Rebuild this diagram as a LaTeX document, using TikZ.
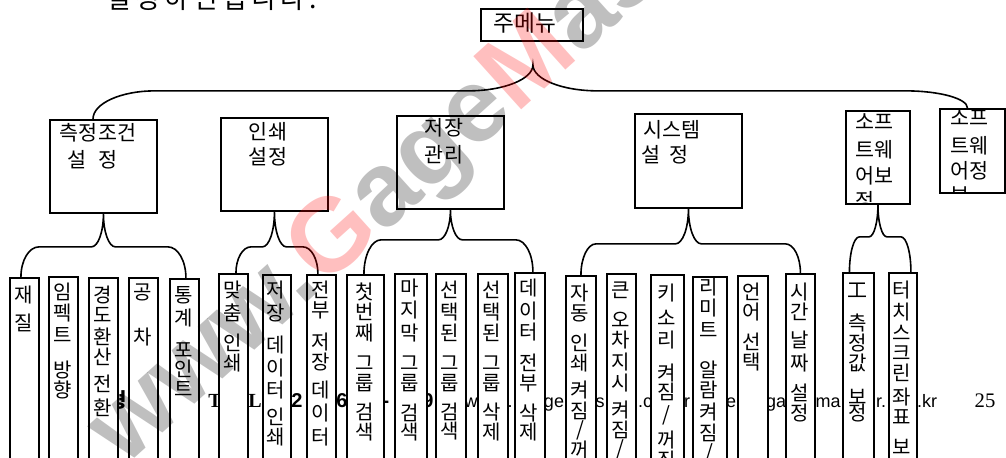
\documentclass[tikz,border=0pt]{standalone}
\usepackage{fontspec}
\setmainfont{Liberation Serif}
\newfontfamily\kr{Noto Sans CJK KR}
\newfontfamily\lsans{Liberation Sans}
\usetikzlibrary{calc}
\newcommand\pbox[5]{\node[box, anchor=north west, minimum width={(#4-#2)*0.75pt}, minimum height={(#5-#3)*0.75pt}] (#1) at (#2,#3) {};}
\newcommand\vtext[3]{\foreach \yy/\ch [count=\i] in {#3} {\node[vch] (#1-\i) at (#2,\yy) {\ch};}}
\newcommand\cbrace[6]{%
\draw[br] let \p1=(#1), \p2=(#2), \p3=(#3), \p4=($(#1)+(0,#4)$), \p5=(#5,0), \p6=(#6,0) in
 (\p2) .. controls (\x2,{\y2+0.552*((\y4)-(\y2))}) and ({\x2+0.448*\x5},\y4) .. ({\x2+\x5},\y4)
 -- ({\x1-\x6},\y4) .. controls ({\x1-0.448*\x6},\y4) and (\x1,{\y1-0.552*((\y1)-(\y4))}) .. (\p1)
 .. controls (\x1,{\y1-0.552*((\y1)-(\y4))}) and ({\x1+0.448*\x6},\y4) .. ({\x1+\x6},\y4)
 -- ({\x3-\x5},\y4) .. controls ({\x3-0.448*\x5},\y4) and (\x3,{\y3+0.552*((\y4)-(\y3))}) .. (\p3);}
\begin{document}
\begin{tikzpicture}[x=0.75pt,y=-0.75pt,
  box/.style={draw, line width=1.4pt, fill=white, inner sep=0pt},
  br/.style={line width=1.2pt},
  vch/.style={font=\kr\fontsize{15}{15}\selectfont, inner sep=0pt},
  tt/.style={font=\kr\fontsize{15.5}{16}\selectfont, inner sep=0pt},
  ft/.style={anchor=base, inner sep=0pt}]
\useasboundingbox (0,0) rectangle (1006,457);
\clip (0,0) rectangle (1006,457);
% header line (cut at top)
\node[anchor=base west, inner sep=0pt, font=\kr\fontsize{20}{22}\selectfont] (head) at (106,8) {설\,정\,하\,면\,됩\,니\,다\,.};
% footer fragments (mostly hidden behind the columns)
\node[ft, font=\kr\bfseries\fontsize{15}{16}\selectfont] (f0) at (118,407) {형};
\node[ft, font=\bfseries\fontsize{15}{16}\selectfont] (f1) at (215,407) {T};
\node[ft, font=\bfseries\fontsize{15}{16}\selectfont] (f2) at (255,407) {L};
\node[ft, font=\lsans\bfseries\fontsize{15}{16}\selectfont] (f3) at (297,407) {2};
\node[ft, font=\lsans\bfseries\fontsize{15}{16}\selectfont] (f4) at (342,407) {6};
\node[ft, font=\lsans\bfseries\fontsize{15}{16}\selectfont] (f5) at (386,407) {-};
\node[ft, font=\lsans\bfseries\fontsize{15}{16}\selectfont] (f6) at (428,407) {9};
\node[ft, font=\lsans\fontsize{13.5}{16}\selectfont] (f7) at (471,407) {w};
\node[ft, font=\lsans\fontsize{13.5}{16}\selectfont] (f8) at (510,407) {.};
\node[ft, font=\lsans\fontsize{13.5}{16}\selectfont] (f9) at (554,407) {ge};
\node[ft, font=\lsans\fontsize{13.5}{16}\selectfont] (f10) at (600,407) {s};
\node[ft, font=\lsans\fontsize{13.5}{16}\selectfont] (f11) at (645,407) {.c};
\node[ft, font=\lsans\fontsize{13.5}{16}\selectfont] (f12) at (687,407) {r};
\node[ft, font=\lsans\fontsize{13.5}{16}\selectfont] (f13) at (731,407) {e};
\node[ft, font=\lsans\fontsize{13.5}{16}\selectfont] (f14) at (776,407) {ga};
\node[ft, font=\lsans\fontsize{13.5}{16}\selectfont] (f15) at (828,407) {ma};
\node[ft, font=\lsans\fontsize{13.5}{16}\selectfont] (f16) at (881,407) {r.};
\node[ft, font=\lsans\fontsize{13.5}{16}\selectfont] (f17) at (927,407) {.kr};
\node[ft, font=\fontsize{15.5}{16}\selectfont] (f18) at (985,407) {25};
% main menu
\pbox{M}{480}{8}{582}{40}
\node[font=\kr\fontsize{17}{18}\selectfont, inner sep=0pt] (Mt) at (525,23) {주메뉴};
% level-1 boxes
\pbox{A}{49}{119}{156}{212}
\pbox{B}{220}{117}{327}{210}
\pbox{C}{396}{115}{503}{208}
\pbox{D}{634}{113}{741}{207}
\pbox{E}{845}{110}{909}{203}
\pbox{F}{939}{108}{1004}{192}
\node[tt] (At1) at (98,133) {측정조건};
\node[tt] (At2) at (92.5,160) {설\hspace{9pt}정};
\node[tt] (Bt1) at (268,132) {인쇄};
\node[tt] (Bt2) at (268,157) {설정};
\node[tt] (Ct1) at (444,128) {저장};
\node[tt] (Ct2) at (444,155) {관리};
\node[tt] (Dt1) at (672,130) {시스템};
\node[tt] (Dt2) at (665,155) {설\hspace{6pt}정};
\begin{scope}
\clip (E.north west) rectangle (E.south east);
\node[tt, anchor=west] (Et1) at (855,122) {소프};
\node[tt, anchor=west] (Et2) at (855,150) {트웨};
\node[tt, anchor=west] (Et3) at (855,176) {어보};
\node[tt, anchor=west] (Et4) at (855,201) {정};
\end{scope}
\begin{scope}
\clip (F.north west) rectangle (F.south east);
\node[tt, anchor=west] (Ft1) at (950,118) {소프};
\node[tt, anchor=west] (Ft2) at (950,146) {트웨};
\node[tt, anchor=west] (Ft3) at (950,171) {어정};
\node[tt, anchor=west] (Ft4) at (950,195) {보};
\end{scope}
% columns
\pbox{c1}{9}{277}{38}{470}
\pbox{c2}{48}{276}{77}{470}
\pbox{c3}{88}{277}{117}{470}
\pbox{c4}{128}{277}{157}{470}
\pbox{c5}{169}{278}{198}{470}
\pbox{c6}{218}{273}{247}{470}
\pbox{c7}{262}{274}{290}{470}
\pbox{c8}{306}{274}{335}{470}
\pbox{c9}{346}{274}{383}{470}
\pbox{c10}{394}{273}{426}{470}
\pbox{c11}{435}{273}{465}{470}
\pbox{c12}{477}{273}{507}{470}
\pbox{c13}{514}{272}{544}{470}
\pbox{c14}{565}{275}{595}{470}
\pbox{c15}{606}{273}{635}{470}
\pbox{c16}{650}{274}{683}{470}
\pbox{c17}{692}{276}{726}{470}
\pbox{c18}{737}{275}{767}{470}
\pbox{c19}{785}{273}{814}{470}
\pbox{c20}{842}{272}{873}{470}
\pbox{c21}{888}{272}{916}{470}
\vtext{v1}{23.5}{295/재,323/질}
\vtext{v2}{62.5}{292/임,313/펙,335/트,370/방,390/향}
\vtext{v3}{102.5}{295/경,315/도,337/환,357/산,384/전,408/환}
\vtext{v4}{142.5}{292/공,337/차}
\vtext{v5}{183.5}{295/통,318/계,350/포,369/인,389/트}
\vtext{v6}{232.5}{290/맞,313/춤,343/인,363/쇄}
\vtext{v7}{276}{290/저,313/장,345/데,368/이,390/터,417/인,437/쇄}
\vtext{v8}{320.5}{290/전,310/부,342/저,362/장,390/데,413/이,437/터}
\vtext{v9}{364.5}{292/첫,312/번,333/째,363/그,383/룹,412/검,432/색}
\vtext{v10}{410}{288/마,310/지,333/막,363/그,383/룹,413/검,432/색}
\vtext{v11}{450}{290/선,312/택,333/된,363/그,383/룹,412/검,431/색}
\vtext{v12}{492}{290/선,312/택,333/된,363/그,383/룹,412/삭,432/제}
\vtext{v13}{529}{288/데,311/이,332/터,363/전,383/부,413/삭,432/제}
\vtext{v14}{580}{293/자,313/동,343/인,363/쇄,390/켜,411/짐,430/{/},450/꺼}
\vtext{v15}{620.5}{290/큰,320/오,340/차,362/지,383/시,410/켜,430/짐,449/{/}}
\vtext{v16}{666.5}{293/키,318/소,340/리,373/켜,392/짐,415/{/},440/꺼,460/짐}
\vtext{v17}{709}{287/리,308/미,330/트,370/알,390/람,412/켜,433/짐,453/{/}}
\vtext{v18}{752}{292/언,312/어,342/선,362/택}
\vtext{v19}{799.5}{292/시,312/간,340/날,363/짜,393/설,413/정}
\vtext{v20}{857.5}{290/工,323/측,343/정,363/값,397/보,413/정}
\vtext{v21}{902}{290/터,312/치,333/스,353/크,373/린,397/좌,417/표,447/보}
% braces
\coordinate (mt) at ($(M.south)+(1,23)$);
\coordinate (mL) at ($(A.north west)+(44,0)$);
\coordinate (mR) at ($(F.north)+(-5,0)$);
\cbrace{mt}{mL}{mR}{26}{62}{65}
\cbrace{A.south}{$(c1.north)+(-3.5,0)$}{$(c5.north)+(1.5,0)$}{33}{18}{12}
\cbrace{B.south}{$(c6.north)+(2.5,0)$}{$(c8.north)+(-3.5,0)$}{35}{15}{12}
\cbrace{C.south}{$(c9.north)+(-1.5,0)$}{$(c13.north)+(3,0)$}{30}{17}{12}
\cbrace{D.south}{c14.north}{c19.north}{35}{15}{13}
\cbrace{E.south}{$(c20.north)+(-9,0)$}{$(c21.north)+(8,0)$}{32}{10}{9}
% watermark
\node[rotate=42, inner sep=0pt, text opacity=0.25, font=\lsans\bfseries\fontsize{78}{80}\selectfont] (wm) at (428,160)
  {\textcolor{black}{www.}\textcolor{red}{G}\textcolor{black}{age}\textcolor{red}{M}\textcolor{black}{aster}};
\end{tikzpicture}
\end{document}
